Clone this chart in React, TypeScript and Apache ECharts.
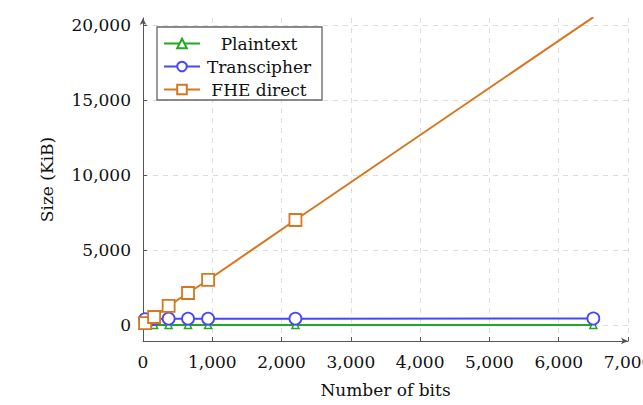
import React, { useEffect, useRef } from "react";
import * as echarts from "echarts";

const bits = [30, 160, 370, 650, 940, 2200, 6500];
const plaintext = [0, 0, 0, 0, 0, 0, 1];
const transcipher = [390, 400, 420, 420, 420, 420, 430];
const fheDirect = [120, 530, 1270, 2130, 3000, 7000, 20530];
const yTicks = [0, 5000, 10000, 15000, 20000];

const FONT = "DejaVu Serif";

export default function App() {
  const ref = useRef<HTMLDivElement>(null);
  useEffect(() => {
    if (!ref.current) return;
    const chart = echarts.init(ref.current, undefined, { renderer: "svg" });
    const fmt = (v: number) => v.toLocaleString("en-US");
    const mk = (d: number[]) => bits.map((b, i) => [b, d[i]]);
    chart.setOption({
      animation: false,
      textStyle: { fontFamily: FONT },
      grid: { left: 143, right: 15, top: 18, bottom: 64, outerBoundsMode: "none", containLabel: false },
      legend: {
        orient: "vertical",
        left: 157,
        top: 27,
        backgroundColor: "#fff",
        borderColor: "#666",
        borderWidth: 1.3,
        borderRadius: 0,
        padding: [8, 9, 2, 6],
        itemGap: 6,
        itemWidth: 36,
        itemHeight: 12,
        formatter: (n: string) => `{a|${n}}`,
        textStyle: {
          fontFamily: FONT,
          fontSize: 17,
          color: "#111",
          rich: { a: { width: 108, align: "center", fontFamily: FONT, fontSize: 17, color: "#111", lineHeight: 20 } },
        },
        data: ["Plaintext", "Transcipher", "FHE direct"],
      },
      xAxis: {
        type: "value",
        min: 0,
        max: 7000,
        interval: 1000,
        name: "Number of bits",
        nameLocation: "middle",
        nameGap: 40,
        nameTextStyle: { fontFamily: FONT, fontSize: 17, color: "#111" },
        axisLine: {
          onZero: false,
          symbol: ["none", "arrow"],
          symbolSize: [5, 7],
          lineStyle: { color: "#555", width: 1 },
        },
        axisTick: { inside: true, length: 4, lineStyle: { color: "#555" } },
        axisLabel: { formatter: fmt, fontFamily: FONT, fontSize: 17, color: "#111", margin: 12, hideOverlap: false },
        splitLine: { lineStyle: { color: "#ddd", type: [5, 5] } },
      },
      yAxis: {
        type: "value",
        min: -1070,
        max: 20470,
        name: "Size (KiB)",
        nameLocation: "middle",
        nameGap: 88,
        nameTextStyle: { fontFamily: FONT, fontSize: 17, color: "#111" },
        axisLine: {
          onZero: false,
          symbol: ["none", "arrow"],
          symbolSize: [5, 7],
          lineStyle: { color: "#555", width: 1 },
        },
        axisTick: { inside: true, length: 4, customValues: yTicks, lineStyle: { color: "#555" } },
        axisLabel: {
          customValues: yTicks,
          formatter: fmt,
          fontFamily: FONT,
          fontSize: 17,
          color: "#111",
          margin: 12,
        },
        splitLine: { lineStyle: { color: "#ddd", type: [5, 5] } },
      },
      series: [
        {
          name: "Plaintext",
          type: "line",
          data: mk(plaintext),
          symbol: "triangle",
          symbolSize: 7,
          showAllSymbol: true,
          lineStyle: { color: "#22a822", width: 2 },
          itemStyle: { color: "#fff", borderColor: "#22a822", borderWidth: 1.5 },
        },
        {
          name: "Transcipher",
          type: "line",
          data: mk(transcipher),
          symbol: "circle",
          symbolSize: 12,
          showAllSymbol: true,
          lineStyle: { color: "#4646ff", width: 2 },
          itemStyle: { color: "#fff", borderColor: "#4646ff", borderWidth: 1.8 },
        },
        {
          name: "FHE direct",
          type: "line",
          data: mk(fheDirect),
          symbol: "rect",
          symbolSize: 12,
          showAllSymbol: true,
          lineStyle: { color: "#d8761e", width: 2 },
          itemStyle: { color: "#fff", borderColor: "#d8761e", borderWidth: 1.8 },
        },
      ],
    });
    return () => chart.dispose();
  }, []);
  return (
    <div
      ref={ref}
      style={{ position: "absolute", left: 0, top: 0, width: 643, height: 405, background: "#fff" }}
    />
  );
}
